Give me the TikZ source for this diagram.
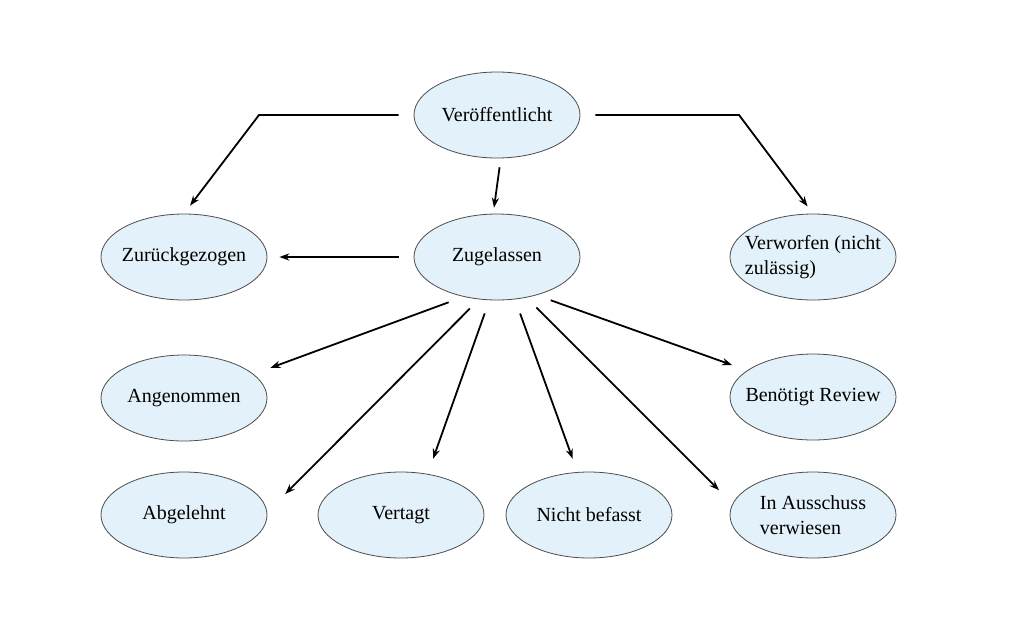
\documentclass[tikz,border=0pt]{standalone}
\usepackage{fontspec}
\setmainfont{Liberation Serif}
\usetikzlibrary{shapes.geometric,arrows.meta}
\definecolor{statefill}{RGB}{227,241,250}
\begin{document}
\begin{tikzpicture}[x=0.5pt,y=-0.5pt]
	\tikzstyle{state}=[ellipse,draw=black!70,line width=0.4pt,fill=statefill,minimum width=83pt,minimum height=43pt,inner xsep=-10pt,inner ysep=0pt,font=\fontsize{10}{12.5}\selectfont,align=left]
	\tikzstyle{edge}=[draw, line width=0.9pt, -{Stealth[length=5pt,width=3.6pt]}]
	\fill[white] (0,0) rectangle (1023,633);
	\begin{scope}
		\node [state] (pub) at (497,115) {Veröffentlicht};
		\node [state] (zug) at (497,257) {Zugelassen};
		\node [state] (wd) at (184,257) {Zurückgezogen};
		\node [state] (vw) at (813,257) {Verworfen (nicht\\zulässig)};
		\node [state] (ang) at (184,398) {Angenommen};
		\node [state] (br) at (813,397) {Benötigt Review};
		\node [state] (abg) at (184,515) {Abgelehnt};
		\node [state] (vert) at (401,515) {Vertagt};
		\node [state] (nb) at (589,515) {Nicht befasst};
		\node [state] (ia) at (813,515) {In Ausschuss\\verwiesen};
		\coordinate (lbend) at (259,115);
		\coordinate (rbend) at (739,115);
		\draw[edge, shorten <=7.5pt, shorten >=5pt] (pub.west) -- (lbend) -- (wd.north);
		\draw[edge, shorten <=7.5pt, shorten >=4.5pt] (pub.east) -- (rbend) -- (vw.north);
		\draw[edge, shorten <=4.5pt, shorten >=3pt] (pub.-85) -- (zug.95);
		\draw[edge, shorten <=7.5pt, shorten >=6pt] (zug.west) -- (wd.east);
		\draw[edge, shorten <=8pt, shorten >=9pt] (zug.230) -- (ang.19);
		\draw[edge, shorten <=6.5pt, shorten >=12.75pt] (zug.247) -- (abg.2);
		\draw[edge, shorten <=7pt, shorten >=8pt] (zug.260) -- (vert.57);
		\draw[edge, shorten <=7.5pt, shorten >=7pt] (zug.293) -- (nb.105);
		\draw[edge, shorten <=7pt, shorten >=9.5pt] (zug.306) -- (ia.172);
		\draw[edge, shorten <=7.5pt, shorten >=8pt] (zug.316) -- (br.158);
	\end{scope}
\end{tikzpicture}
\end{document}
